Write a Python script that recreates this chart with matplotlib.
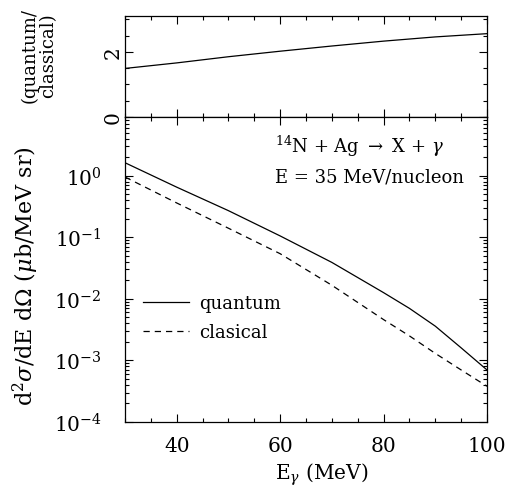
#!/usr/bin/env python3
"""Photon spectra for 14N + Ag at 35 MeV/nucleon: ratio panel over log spectrum."""

import matplotlib
matplotlib.use("Agg")
import matplotlib.pyplot as plt
from matplotlib.ticker import MultipleLocator, LogLocator, NullFormatter, FixedLocator

plt.rcParams["font.family"] = ["DejaVu Serif"]
plt.rcParams["mathtext.fontset"] = "dejavuserif"

# ratio quantum/classical (top panel)
RATIO_E = [30, 40, 50, 60, 70, 80, 90, 100]
RATIO = [1.49, 1.66, 1.85, 2.02, 2.18, 2.33, 2.46, 2.56]

# d2sigma/dE dOmega (ub/MeV sr), bottom panel
E_GAMMA = [30, 40, 50, 60, 70, 80, 85, 90, 95, 100]
QUANTUM = [1.62, 0.65, 0.27, 0.105, 0.039, 0.0126, 7.0e-3, 3.6e-3, 1.6e-3, 7.0e-4]
CLASSICAL = [0.95, 0.36, 0.14, 0.054, 0.0166, 4.6e-3, 2.5e-3, 1.3e-3, 7.0e-4, 3.8e-4]

XTICKS = [40, 60, 80, 100]
YTICKS_LOG = [1e-4, 1e-3, 1e-2, 1e-1, 1e0]


def style(ax):
    ax.tick_params(which="both", direction="in", top=True, right=True,
                   labelsize=14.5, width=0.8)
    ax.tick_params(which="major", length=5.5)
    ax.tick_params(which="minor", length=2.8)
    for s in ax.spines.values():
        s.set_linewidth(0.9)


def main():
    fig = plt.figure(figsize=(5.07, 4.89), dpi=100)
    ax_top = fig.add_axes([0.2465, 0.759, 0.714, 0.206])
    ax = fig.add_axes([0.2465, 0.135, 0.714, 0.624])

    # top: ratio
    ax_top.plot(RATIO_E, RATIO, color="black", lw=0.9)
    ax_top.set_xlim(30, 100)
    ax_top.set_ylim(0, 3.1)
    ax_top.xaxis.set_major_locator(FixedLocator(XTICKS))
    ax_top.xaxis.set_minor_locator(MultipleLocator(5))
    ax_top.yaxis.set_major_locator(FixedLocator([0, 2]))
    ax_top.yaxis.set_minor_locator(MultipleLocator(0.5))
    ax_top.set_xticklabels([])
    style(ax_top)
    ax_top.tick_params(axis="y", pad=2)
    for lab in ax_top.get_yticklabels():
        lab.set_rotation(90)
        lab.set_va("center")
    fig.text(39 / 507, 1 - 103 / 489, "(quantum/\nclassical)", rotation=90,
             ha="center", va="bottom", fontsize=13, linespacing=1.05)

    # bottom: spectra
    ax.plot(E_GAMMA, QUANTUM, color="black", lw=0.9, label="quantum")
    ax.plot(E_GAMMA, CLASSICAL, color="black", lw=0.9, ls=(0, (5, 4)),
            label="clasical")
    ax.set_yscale("log")
    ax.set_xlim(30, 100)
    ax.set_ylim(1e-4, 9.0)
    ax.xaxis.set_major_locator(FixedLocator(XTICKS))
    ax.xaxis.set_minor_locator(MultipleLocator(5))
    ax.yaxis.set_major_locator(FixedLocator(YTICKS_LOG))
    ax.yaxis.set_minor_locator(LogLocator(base=10, subs=range(2, 10)))
    ax.yaxis.set_minor_formatter(NullFormatter())
    style(ax)
    ax.tick_params(axis="y", pad=17)
    ax.tick_params(axis="x", pad=10)

    fig.text(322 / 507, 1 - 475 / 489, r"E$_\gamma$ (MeV)", ha="center",
             va="center", fontsize=14.5)
    fig.text(26 / 507, 1 - 276 / 489,
             r"d$^2\sigma$/dE d$\Omega$ ($\mu$b/MeV sr)", rotation=90,
             ha="center", va="center", fontsize=16)

    ax.text(0.414, 0.905, r"$^{14}$N + Ag $\rightarrow$ X + $\gamma$",
            transform=ax.transAxes, ha="left", va="center", fontsize=13)
    ax.text(0.414, 0.803, "E = 35 MeV/nucleon", transform=ax.transAxes,
            ha="left", va="center", fontsize=13)

    ax.legend(loc="center left", bbox_to_anchor=(0.05, 0.342), frameon=False,
              fontsize=13, handlelength=2.55, handletextpad=0.55,
              labelspacing=0.6, borderpad=0, borderaxespad=0)

    fig.savefig("out.png", dpi=100)


if __name__ == "__main__":
    main()
